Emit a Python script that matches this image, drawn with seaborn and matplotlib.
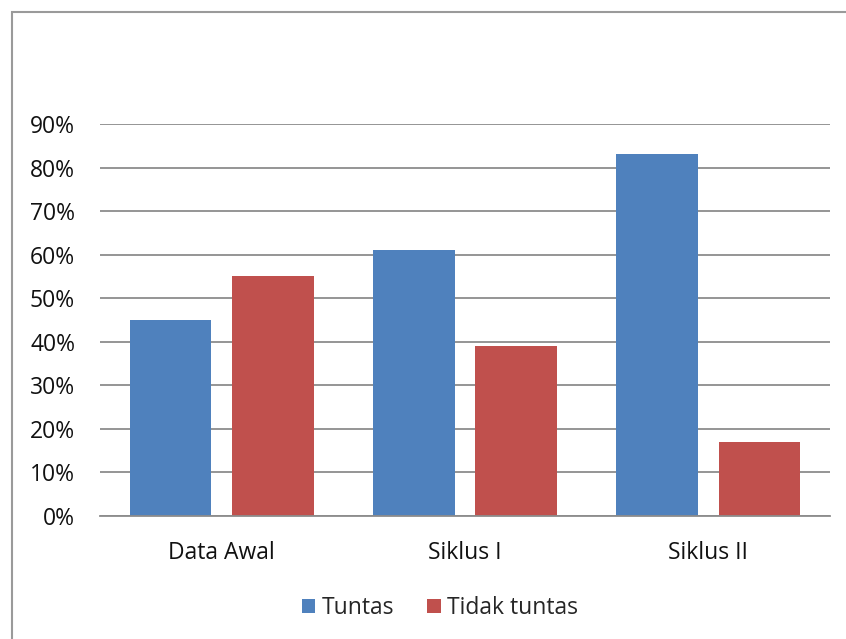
import pandas as pd
import matplotlib.pyplot as plt
import seaborn as sns
from matplotlib.patches import Rectangle
from matplotlib.ticker import PercentFormatter

categories = ["Data Awal", "Siklus I", "Siklus II"]
tuntas = [0.45, 0.61, 0.83]
tidak_tuntas = [0.55, 0.39, 0.17]
series_names = ["Tuntas", "Tidak tuntas"]
y_ticks = [0.0, 0.1, 0.2, 0.3, 0.4, 0.5, 0.6, 0.7, 0.8, 0.9]

df = pd.DataFrame({
    "Kategori": categories * 2,
    "Nilai": tuntas + tidak_tuntas,
    "Status": [series_names[0]] * 3 + [series_names[1]] * 3,
})

sns.set_style("white")
plt.rcParams["font.family"] = ["Open Sans", "DejaVu Sans"]

fig = plt.figure(figsize=(8.46, 6.39), dpi=100)
ax = fig.add_axes([100 / 846, 1 - 516 / 639, 730 / 846, 392 / 639])

sns.barplot(data=df, x="Kategori", y="Nilai", hue="Status",
            palette=["#4F81BD", "#C0504D"], saturation=1, width=0.84, gap=0.2,
            linewidth=0, ax=ax, legend=True)

ax.set_ylim(0, 0.9)
ax.set_yticks(y_ticks)
ax.yaxis.set_major_formatter(PercentFormatter(1.0, decimals=0))
ax.grid(axis="y", color="#8C8C8C", linewidth=1.3)
ax.set_axisbelow(True)
for s in ["left", "right", "top"]:
    ax.spines[s].set_visible(False)
ax.spines["bottom"].set_color("#8C8C8C")
ax.spines["bottom"].set_linewidth(1.3)
ax.tick_params(axis="y", length=0, pad=18, labelsize=16.5, labelcolor="#111111")
ax.tick_params(axis="x", length=0, pad=18, labelsize=16.5, labelcolor="#111111")
ax.set_xlabel("")
ax.set_ylabel("")

handles, labels = ax.get_legend_handles_labels()
ax.legend(handles, labels, loc="center", bbox_to_anchor=(440 / 846, 1 - 608 / 639),
          bbox_transform=fig.transFigure, ncol=2, frameon=False, fontsize=16.5,
          handlelength=0.6, handleheight=0.6, handletextpad=0.3, columnspacing=1.4)

# chart frame (partly cut off at right and bottom)
fig.patches.append(Rectangle((12 / 846, -0.05), 1.0, 1 - 12 / 639 + 0.05,
                             transform=fig.transFigure, fill=False,
                             edgecolor="#9A9A9A", linewidth=1.5))

fig.savefig("out.png", dpi=100)
